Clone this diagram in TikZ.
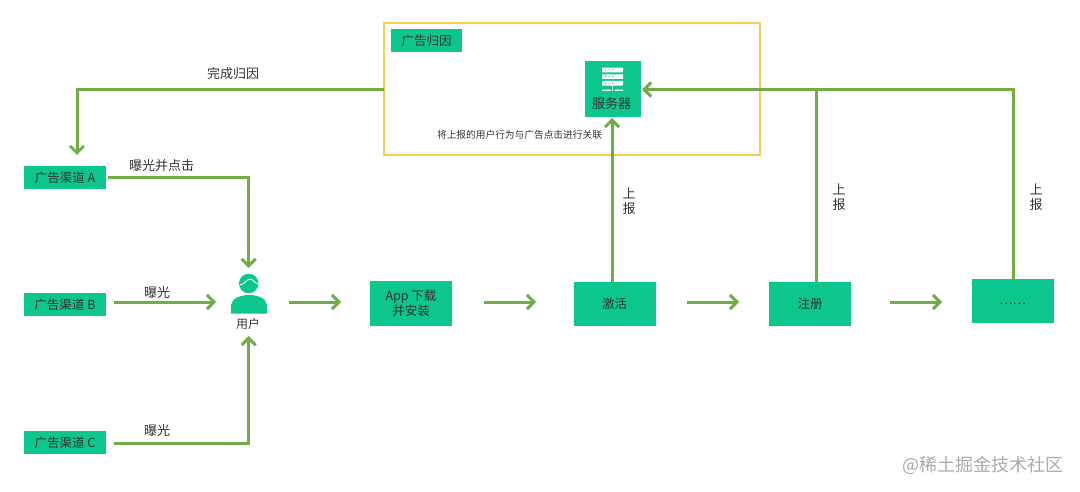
\documentclass[tikz,border=0pt]{standalone}
\usepackage{fontspec}
\setmainfont{Noto Sans CJK SC}
\usetikzlibrary{arrows.meta}
\definecolor{boxg}{HTML}{0CC68E}
\definecolor{lineg}{HTML}{70AD47}
\definecolor{yel}{HTML}{F5CF50}
\definecolor{txt}{HTML}{333333}
\definecolor{wm}{HTML}{ABABAB}
\tikzset{
  x=1pt,y=-1pt,
  gbox/.style={fill=boxg,draw=none,minimum width=#1,inner sep=0pt,font=\fontsize{12.5}{15}\selectfont,text=txt,align=center},
  flow/.style={draw=lineg,line width=3pt,line join=miter,-{Straight Barb[length=7pt,width=14pt,line width=3pt]}},
  lab/.style={font=\fontsize{13}{15}\selectfont,text=txt,inner sep=0pt,align=center},
  small/.style={font=\fontsize{9.7}{12}\selectfont,text=txt,inner sep=0pt},
}
\begin{document}
\begin{tikzpicture}
\useasboundingbox (0,0) rectangle (1080,492);
\fill[white] (0,0) rectangle (1080,492);
% attribution frame
\node[draw=yel,line width=1.2pt,minimum width=376pt,minimum height=132pt,inner sep=0pt] (frame) at (572,89) {};
\node[gbox=71pt,minimum height=23pt] (title) at (426.5,40.5) {广告归因};
\node[gbox=56pt,minimum height=56pt] (server) at (613,89) {};
\node[lab] (servertext) at (611.5,103.5) {服务器};
\foreach \yy in {70,76.7,83.3}{
  \fill[white,rounded corners=0.5pt] (602,\yy-2.3) rectangle (623,\yy+2.3);
  \fill[boxg] (605,\yy-0.5) rectangle (606,\yy+0.5) (608.5,\yy-0.5) rectangle (609.5,\yy+0.5) (612,\yy-0.5) rectangle (613,\yy+0.5);
}
\fill[white] (602,89.7) rectangle (610.5,91) (614.5,89.7) rectangle (623,91);
\fill[white] (611.8,85) rectangle (613.2,91);
\node[small] (note) at (519.5,135) {将上报的用户行为与广告点击进行关联};
% channels
\node[gbox=82pt,minimum height=23pt] (a) at (65,177.5) {广告渠道 A};
\node[gbox=82pt,minimum height=23pt] (b) at (65,304.5) {广告渠道 B};
\node[gbox=82pt,minimum height=23pt] (c) at (65,442.5) {广告渠道 C};
% user
\node[circle,fill=boxg,minimum size=19.5pt,inner sep=0pt] (head) at (248.7,283.5) {};
\draw[white,line width=0.8pt] (239.5,285) .. controls (244,285) and (247,279) .. (250,279) .. controls (253,279) and (255,283.5) .. (258,284);
\fill[boxg] (231,313.5) -- (231,305) .. controls (232,298) and (241,295) .. (249,295) .. controls (257,295) and (266,298) .. (267,305) -- (267,313.5) -- cycle;
\coordinate (userw) at (216,302);
\coordinate (usere) at (289,302);
\coordinate (usert) at (248.7,268);
\coordinate (userb) at (248.7,336);
\node[lab,font=\fontsize{12}{14}\selectfont] (usertext) at (248,324) {用户};
% process boxes
\node[gbox=82pt,minimum height=45pt] (app) at (411,303.5) {App 下载\\并安装};
\node[gbox=82pt,minimum height=44pt] (act) at (614.5,304) {激活};
\node[gbox=82pt,minimum height=44pt] (reg) at (810,304) {注册};
\node[gbox=82pt,minimum height=44pt] (more) at (1012.5,301) {\raisebox{-8pt}{……}};
% helper points
\coordinate (framew) at (384,89.5);
\coordinate (aTop) at (77,155);
\coordinate (aE) at (108,177.5);
\coordinate (bE) at (114,302);
\coordinate (cE) at (114,443);
\coordinate (appW) at (341,302);
\coordinate (appE) at (484,302);
\coordinate (actW) at (536,302);
\coordinate (actE) at (687,302);
\coordinate (regW) at (739,302);
\coordinate (regE) at (890,302);
\coordinate (moreW) at (942,302);
\coordinate (actT) at (612,282);
\coordinate (servB) at (612,118);
\coordinate (regT) at (816,282);
\coordinate (moreT) at (1013,279);
\coordinate (servE) at (642,89.5);
% connectors
\draw[flow] (framew) -| (aTop);
\draw[flow] (aE) -| (usert);
\draw[flow] (bE) -- (userw);
\draw[flow] (cE) -| (userb);
\draw[flow] (usere) -- (appW);
\draw[flow] (appE) -- (actW);
\draw[flow] (actE) -- (regW);
\draw[flow] (regE) -- (moreW);
\draw[flow] (actT) -- (servB);
\draw[flow] (regT) |- (servE);
\draw[flow] (moreT) |- (servE);
% labels
\node[lab] (l1) at (233,74) {完成归因};
\node[lab] (l2) at (161.5,166) {曝光并点击};
\node[lab] (l3) at (157,293) {曝光};
\node[lab] (l4) at (157,431) {曝光};
\node[lab] (l5) at (629,201) {上\\报};
\node[lab] (l6) at (839,197) {上\\报};
\node[lab] (l7) at (1036,197) {上\\报};
\node[font=\fontsize{18}{21}\selectfont,text=wm,inner sep=0pt] (mark) at (983,465) {@稀土掘金技术社区};
\end{tikzpicture}
\end{document}
